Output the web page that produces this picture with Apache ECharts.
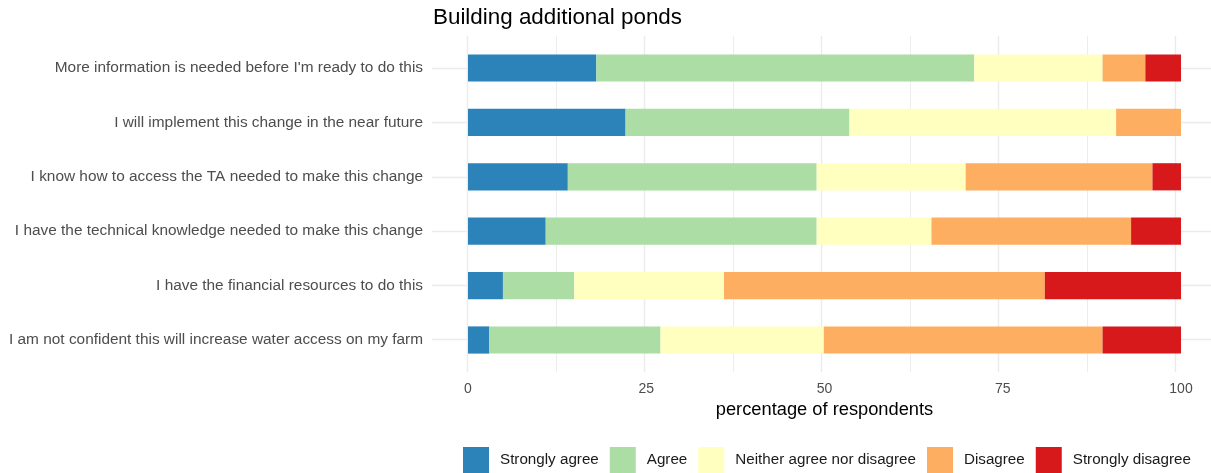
<!DOCTYPE html>
<html>
<head>
<meta charset="utf-8">
<title>Building additional ponds</title>
<script src="https://cdn.jsdelivr.net/npm/echarts@6/dist/echarts.min.js"></script>
<style>
  html, body { margin: 0; padding: 0; background: #fff; }
  #chart { width: 1211px; height: 473px; }
</style>
</head>
<body>
<div id="chart"></div>
<script>
// statements, top to bottom as drawn
const statements = [
  'More information is needed before I\'m ready to do this',
  'I will implement this change in the near future',
  'I know how to access the TA needed to make this change',
  'I have the technical knowledge needed to make this change',
  'I have the financial resources to do this',
  'I am not confident this will increase water access on my farm',
];

// percentage of respondents per answer, same order as statements
const stronglyAgree = [18.0, 22.1, 14.0, 10.9, 4.9, 3.0];
const agree = [53.0, 31.4, 34.9, 38.0, 10.0, 24.0];
const neither = [18.0, 37.4, 20.9, 16.1, 21.0, 22.9];
const disagree = [6.0, 9.1, 26.2, 28.0, 45.0, 39.1];
const stronglyDisagree = [5.0, 0.0, 4.0, 7.0, 19.1, 11.0];

const answerNames = ['Strongly agree', 'Agree', 'Neither agree nor disagree', 'Disagree', 'Strongly disagree'];
const answerValues = [stronglyAgree, agree, neither, disagree, stronglyDisagree];
const answerColors = ['#2b83ba', '#abdda4', '#ffffbf', '#fdae61', '#d7191c'];

// x gridlines (ggplot style: major + minor)
const majorTicks = [0, 25, 50, 75, 100];
const minorTicks = [12.5, 37.5, 62.5, 87.5];

const FONT = '"Liberation Sans", Arial, sans-serif';
const GRID_COLOR = '#ebebeb';

const chart = echarts.init(document.getElementById('chart'), null, { renderer: 'canvas' });

const gridLines = [
  ...majorTicks.map((v) => ({ xAxis: v, lineStyle: { width: 1.4 } })),
  ...minorTicks.map((v) => ({ xAxis: v, lineStyle: { width: 0.9 } })),
  ...statements.map((_, i) => ({ yAxis: i, lineStyle: { width: 1.4 } })),
];

chart.setOption({
  backgroundColor: '#fff',
  animation: false,
  textStyle: { fontFamily: FONT },
  title: {
    text: 'Building additional ponds',
    left: 433,
    top: 7,
    padding: 0,
    textStyle: { fontSize: 22.4, fontWeight: 'normal', color: '#000', fontFamily: FONT },
  },
  legend: {
    data: answerNames,
    left: 463,
    top: 447,
    padding: 0,
    itemWidth: 26,
    itemHeight: 26,
    itemGap: 11,
    icon: 'rect',
    selectedMode: false,
    textStyle: { fontSize: 15.2, color: '#1a1a1a', fontFamily: FONT, padding: [10, 0, 0, 6] },
  },
  grid: [
    // panel incl. ggplot expansion, only for the gridlines
    { left: 432, top: 36, width: 784.3, height: 336, containLabel: false },
    // data panel: 0..100 and the six bands
    { left: 468, top: 40.8, width: 713, height: 326.4, containLabel: false },
  ],
  xAxis: [
    { gridIndex: 0, type: 'value', min: -5, max: 105, show: false },
    {
      gridIndex: 1,
      type: 'value',
      min: 0,
      max: 100,
      interval: 25,
      axisLine: { show: false },
      axisTick: { show: false },
      splitLine: { show: false },
      axisLabel: { fontSize: 14, color: '#4d4d4d', margin: 15, fontFamily: FONT },
      name: 'percentage of respondents',
      nameLocation: 'middle',
      nameGap: 34,
      nameTextStyle: { fontSize: 18.3, color: '#000', fontFamily: FONT },
    },
  ],
  yAxis: [
    { gridIndex: 0, type: 'value', min: -0.6, max: 5.6, inverse: true, show: false },
    {
      gridIndex: 1,
      type: 'category',
      data: statements,
      inverse: true,
      axisLine: { show: false },
      axisTick: { show: false },
      splitLine: { show: false },
      axisLabel: { fontSize: 15.4, color: '#4d4d4d', margin: 45, fontFamily: FONT },
    },
  ],
  series: [
    {
      type: 'line',
      xAxisIndex: 0,
      yAxisIndex: 0,
      data: [],
      silent: true,
      z: 0,
      markLine: {
        silent: true,
        z: 0,
        symbol: 'none',
        label: { show: false },
        lineStyle: { color: GRID_COLOR, type: 'solid' },
        data: gridLines,
      },
    },
    ...answerNames.map((name, k) => ({
      name,
      type: 'bar',
      stack: 'total',
      xAxisIndex: 1,
      yAxisIndex: 1,
      barWidth: '50%',
      data: answerValues[k],
      itemStyle: { color: answerColors[k] },
      z: 5,
    })),
  ],
});
</script>
</body>
</html>
